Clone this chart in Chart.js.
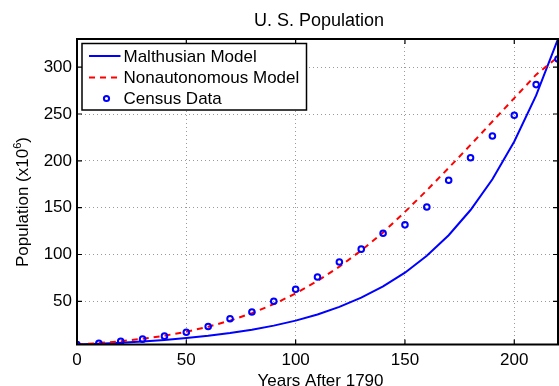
<!DOCTYPE html>
<html>
<head>
<meta charset="utf-8">
<script src="https://cdn.jsdelivr.net/npm/chart.js@4/dist/chart.umd.min.js"></script>
<style>
html,body{margin:0;padding:0;background:#fff;overflow:hidden;}
#wrap{width:559px;height:386px;position:relative;}
canvas{display:block;}
</style>
</head>
<body>
<div id="wrap"><canvas id="c"></canvas></div>
<script>
// ---- data ----
const years = [0,10,20,30,40,50,60,70,80,90,100,110,120,130,140,150,160,170,180,190,200,210,220];
const census = [3.929,5.308,7.240,9.638,12.866,17.069,23.192,31.443,38.558,50.156,62.948,75.996,91.972,105.711,122.775,131.669,150.697,179.323,203.302,226.542,248.710,281.422,308.746];
const malthusian = [3.929,4.81,5.88,7.19,8.79,10.76,13.16,16.09,19.68,24.07,29.44,36.02,44.05,53.88,65.9,80.61,98.59,120.6,147.5,180.4,220.7,269.9,330.1];
const nonautonomous = [3.929,5.43,7.41,10.0,13.33,17.56,22.87,29.43,37.43,47.04,58.44,71.73,87.03,104.3,123.6,145.5,168.5,192.5,217,242,267,292,311];
const xTicks = [0,50,100,150,200];
const yTicks = [50,100,150,200,250,300];
const seriesNames = ['Malthusian Model','Nonautonomous Model','Census Data'];
const titleText = 'U. S. Population';
const xLabel = 'Years After 1790';
const yLabelMain = 'Population (x10';
const yLabelSup = '6';
const yLabelEnd = ')';

const FONT = '"Liberation Sans", Arial, Helvetica, sans-serif';
const pts = arr => years.map((x,i)=>({x:x,y:arr[i]}));

const decor = {
  id:'decor',
  afterDatasetsDraw(chart){
    const ctx = chart.ctx, a = chart.chartArea;
    const xs = chart.scales.x, ys = chart.scales.y;
    ctx.save();
    ctx.strokeStyle = '#000'; ctx.lineWidth = 2;
    ctx.strokeRect(a.left, a.top, a.right-a.left, a.bottom-a.top);
    ctx.lineWidth = 1.2;
    ctx.beginPath();
    const tl = 5;
    xTicks.forEach(v=>{ const px = xs.getPixelForValue(v);
      ctx.moveTo(px,a.bottom); ctx.lineTo(px,a.bottom-tl);
      ctx.moveTo(px,a.top); ctx.lineTo(px,a.top+tl); });
    yTicks.forEach(v=>{ const py = ys.getPixelForValue(v);
      ctx.moveTo(a.left,py); ctx.lineTo(a.left+tl,py);
      ctx.moveTo(a.right,py); ctx.lineTo(a.right-tl,py); });
    ctx.stroke();
    ctx.restore();
  },
  afterDraw(chart){
    const ctx = chart.ctx;
    ctx.save();
    ctx.fillStyle = '#000';
    ctx.font = '18px ' + FONT;
    ctx.textAlign = 'center'; ctx.textBaseline = 'alphabetic';
    ctx.fillText(titleText, 319, 25.5);
    ctx.font = '17px ' + FONT;
    ctx.fillText(xLabel, 320.5, 385.5);
    ctx.save();
    ctx.translate(28, 267);
    ctx.rotate(-Math.PI/2);
    ctx.textAlign = 'left';
    ctx.font = '17px ' + FONT;
    ctx.fillText(yLabelMain, 0, 0);
    let w = ctx.measureText(yLabelMain).width;
    ctx.font = '11px ' + FONT;
    ctx.fillText(yLabelSup, w, -7);
    w += ctx.measureText(yLabelSup).width;
    ctx.font = '17px ' + FONT;
    ctx.fillText(yLabelEnd, w, 0);
    ctx.restore();
    // legend
    const lx = 82, ly = 43.5, lw = 224.5, lh = 66.5;
    ctx.fillStyle = '#fff';
    ctx.fillRect(lx, ly, lw, lh);
    ctx.strokeStyle = '#000'; ctx.lineWidth = 1.5;
    ctx.strokeRect(lx, ly, lw, lh);
    const rows = [56, 77.5, 98.5];
    const ds = chart.data.datasets;
    ctx.font = '17px ' + FONT;
    ctx.textAlign = 'left'; ctx.textBaseline = 'middle';
    ctx.strokeStyle = ds[0].borderColor; ctx.lineWidth = 2; ctx.setLineDash([]);
    ctx.beginPath(); ctx.moveTo(89, rows[0]); ctx.lineTo(120.5, rows[0]); ctx.stroke();
    ctx.strokeStyle = ds[1].borderColor; ctx.setLineDash(ds[1].borderDash);
    ctx.beginPath(); ctx.moveTo(89, rows[1]); ctx.lineTo(120.5, rows[1]); ctx.stroke();
    ctx.setLineDash([]);
    ctx.strokeStyle = ds[2].pointBorderColor; ctx.lineWidth = 2;
    ctx.beginPath(); ctx.arc(106.5, rows[2], 2.6, 0, Math.PI*2); ctx.stroke();
    ctx.fillStyle = '#000';
    seriesNames.forEach((n,i)=>ctx.fillText(n, 123.5, rows[i]+1));
    ctx.restore();
  }
};

new Chart(document.getElementById('c'), {
  type:'scatter',
  data:{
    datasets:[
      {label:seriesNames[0], data:pts(malthusian), showLine:true, borderColor:'#0000ff', borderWidth:2, pointRadius:0, fill:false, tension:0, order:2},
      {label:seriesNames[1], data:pts(nonautonomous), showLine:true, borderColor:'#ff0000', borderWidth:2, borderDash:[6,5], pointRadius:0, fill:false, tension:0, order:1},
      {label:seriesNames[2], data:pts(census), showLine:false, pointRadius:2.8, pointBorderWidth:2, pointBorderColor:'#0000ff', pointBackgroundColor:'rgba(0,0,0,0)', order:0}
    ]
  },
  options:{
    responsive:true, maintainAspectRatio:false, animation:false,
    layout:{autoPadding:false, padding:{top:39, right:1, left:0, bottom:0}},
    plugins:{legend:{display:false}, tooltip:{enabled:false}, title:{display:false}},
    scales:{
      x:{type:'linear', min:0, max:220,
        afterBuildTicks(s){ s.ticks = xTicks.map(v=>({value:v})); },
        afterFit(s){ s.height = 41.5; s.paddingLeft = 0; s.paddingRight = 0; },
        ticks:{autoSkip:false, maxRotation:0, padding:6, color:'#000', font:{family:FONT, size:17}},
        grid:{color:'#9a9a9a', lineWidth:1, drawTicks:false},
        border:{display:false, dash:[1,3]}
      },
      y:{type:'linear', min:3.929, max:330.1,
        afterBuildTicks(s){ s.ticks = yTicks.map(v=>({value:v})); },
        afterFit(s){ s.width = 77; s.paddingTop = 0; s.paddingBottom = 0; },
        ticks:{autoSkip:false, padding:5, color:'#000', font:{family:FONT, size:17}},
        grid:{color:'#9a9a9a', lineWidth:1, drawTicks:false},
        border:{display:false, dash:[1,3]}
      }
    }
  },
  plugins:[decor]
});
</script>
</body>
</html>
